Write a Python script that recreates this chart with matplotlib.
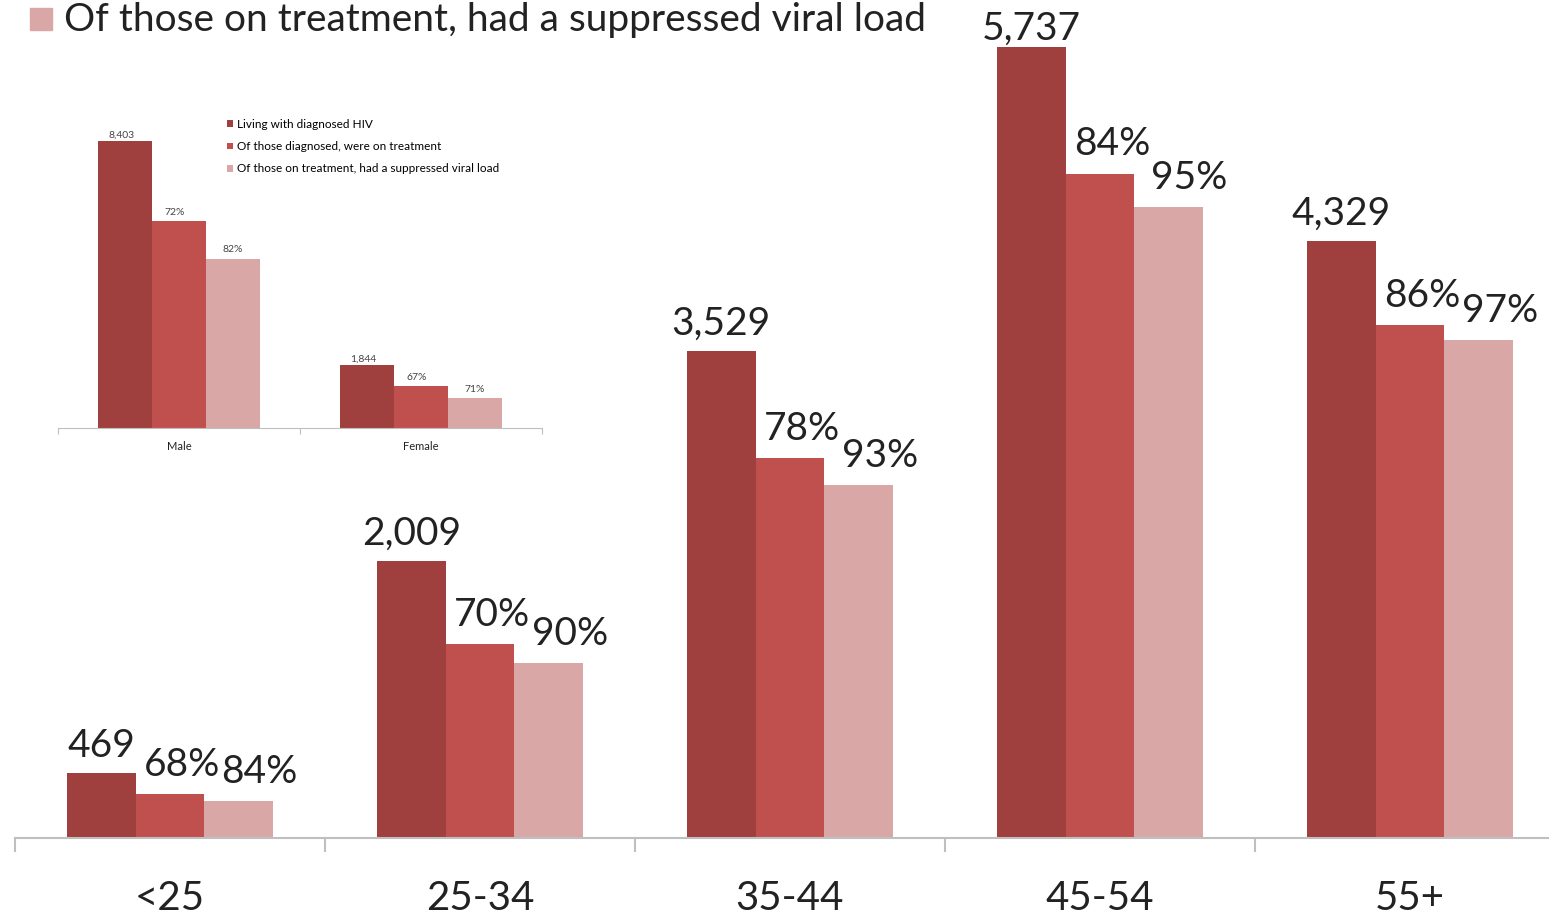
import matplotlib.pyplot as plt
import numpy as np

# ---------------------------------------
# HIV care cascade by age group, with a small inset by sex
# ---------------------------------------

age_groups = ["<25", "25-34", "35-44", "45-54", "55+"]
age_diagnosed = [469, 2009, 3529, 5737, 4329]
age_on_treatment_pct = [68, 70, 78, 84, 86]
age_suppressed_pct = [84, 90, 93, 95, 97]

sexes = ["Male", "Female"]
sex_diagnosed = [8403, 1844]
sex_on_treatment_pct = [72, 67]
sex_suppressed_pct = [82, 71]

series_names = ["Living with diagnosed HIV",
                "Of those diagnosed, were on treatment",
                "Of those on treatment, had a suppressed viral load"]
colors = ["#A0403E", "#C0504D", "#D9A7A6"]
axis_grey = "#BFBFBF"
text_col = "#222222"
FONT = "Lato"

plt.rcParams['font.family'] = [FONT, 'DejaVu Sans']


def cascade(diagnosed, treat_pct, supp_pct):
    diagnosed = np.array(diagnosed, dtype=float)
    treated = diagnosed * np.array(treat_pct) / 100.0
    suppressed = treated * np.array(supp_pct) / 100.0
    return diagnosed, treated, suppressed


def style_axis(ax, n, tick_len, tick_w):
    for side in ["top", "right", "left"]:
        ax.spines[side].set_visible(False)
    ax.spines["bottom"].set_color(axis_grey)
    ax.spines["bottom"].set_linewidth(tick_w)
    ax.set_yticks([])
    ax.set_xlim(-0.5, n - 0.5)
    ax.set_xticks(np.arange(n))
    ax.set_xticks(np.arange(n + 1) - 0.5, minor=True)
    ax.tick_params(axis="x", which="major", length=0)
    ax.tick_params(axis="x", which="minor", length=tick_len, width=tick_w,
                   color=axis_grey, direction="out")
    ax.patch.set_alpha(0)


fig = plt.figure(figsize=(15.49, 9.17), dpi=100)
W, H = 1549.0, 917.0

# main chart
ax = fig.add_axes([15 / W, 79 / H, 1550 / W, 838 / H])
width = 0.222
x = np.arange(len(age_groups))
diag, treat, supp = cascade(age_diagnosed, age_on_treatment_pct, age_suppressed_pct)
for i, vals in enumerate([diag, treat, supp]):
    ax.bar(x + (i - 1) * width, vals, width, color=colors[i], linewidth=0)
ymax = 838 * 5737 / 791.0
ax.set_ylim(0, ymax)
style_axis(ax, len(age_groups), 10, 1.5)
ax.set_xticklabels(age_groups, fontsize=29, color=text_col)
ax.tick_params(axis="x", which="major", pad=30)

for j in range(len(age_groups)):
    # tallest bar: keep its label inside the figure
    lift = 7 if diag[j] < 0.9 * ymax else 0
    ax.annotate(f"{age_diagnosed[j]:,}", (x[j] - width, diag[j]), xytext=(0, lift),
                textcoords="offset points", ha="center", va="bottom",
                fontsize=28, color=text_col)
    ax.annotate(f"{age_on_treatment_pct[j]}%", (x[j], treat[j]), xytext=(9, 8),
                textcoords="offset points", ha="center", va="bottom",
                fontsize=28, color=text_col)
    ax.annotate(f"{age_suppressed_pct[j]}%", (x[j] + width, supp[j]), xytext=(15, 8),
                textcoords="offset points", ha="center", va="bottom",
                fontsize=28, color=text_col)

# legend entry across the top
fig.patches.append(plt.Rectangle((30 / W, 1 - 30 / H), 22 / W, 22 / H,
                                 transform=fig.transFigure, color=colors[2]))
fig.text(64 / W, 1 - 31 / H, series_names[2], fontsize=28, color=text_col,
         ha="left", va="baseline")

# inset by sex
ins = fig.add_axes([58 / W, 1 - 428 / H, 484 / W, 328 / H])
xs = np.arange(len(sexes))
sdiag, streat, ssupp = cascade(sex_diagnosed, sex_on_treatment_pct, sex_suppressed_pct)
bars = []
for i, vals in enumerate([sdiag, streat, ssupp]):
    bars.append(ins.bar(xs + (i - 1) * width, vals, width, color=colors[i],
                        linewidth=0, label=series_names[i]))
ins.set_ylim(0, 328 * 8403 / 287.0)
style_axis(ins, len(sexes), 4, 0.8)
ins.set_xticklabels(sexes, fontsize=8, color=text_col)
ins.tick_params(axis="x", which="major", pad=9)

for j in range(len(sexes)):
    ins.annotate(f"{sex_diagnosed[j]:,}", (xs[j] - width, sdiag[j]), xytext=(-3, 1),
                 textcoords="offset points", ha="center", va="bottom",
                 fontsize=7.5, color="#444444")
    ins.annotate(f"{sex_on_treatment_pct[j]}%", (xs[j], streat[j]), xytext=(-3, 3),
                 textcoords="offset points", ha="center", va="bottom",
                 fontsize=7.5, color="#444444")
    ins.annotate(f"{sex_suppressed_pct[j]}%", (xs[j] + width, ssupp[j]), xytext=(0, 3),
                 textcoords="offset points", ha="center", va="bottom",
                 fontsize=7.5, color="#444444")

fig.legend(handles=bars, loc="upper left", bbox_to_anchor=(227 / W, 1 - 119 / H),
           frameon=False, fontsize=8.5, handlelength=0.5, handleheight=0.5,
           handletextpad=0.35, labelspacing=0.95, borderaxespad=0, borderpad=0)

fig.savefig("out.png", dpi=100)
